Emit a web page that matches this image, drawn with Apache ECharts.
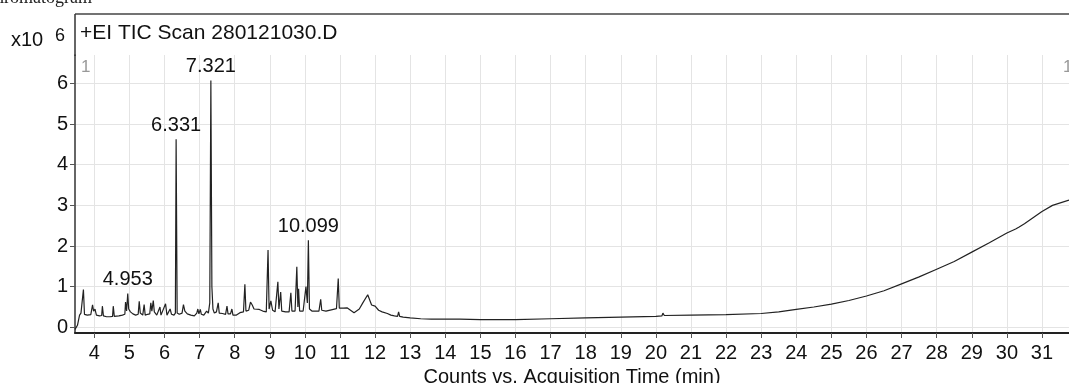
<!DOCTYPE html>
<html>
<head>
<meta charset="utf-8">
<script src="https://cdn.jsdelivr.net/npm/echarts@6/dist/echarts.min.js"></script>
<style>
html,body{margin:0;padding:0;background:#fff;}
#chart{width:1069px;height:383px;}
</style>
</head>
<body>
<div id="chart"></div>
<script>
// Acquisition time (min)
const times = [3.45,3.52,3.58,3.62,3.66,3.69,3.72,3.8,3.9,3.95,3.98,4.02,4.06,4.15,4.21,4.23,4.26,4.35,4.45,4.52,4.54,4.57,4.7,4.8,4.87,4.89,4.92,4.953,4.98,5.03,5.1,5.18,5.25,5.28,5.31,5.38,5.42,5.45,5.52,5.58,5.61,5.64,5.68,5.71,5.78,5.87,5.9,5.95,6.03,6.07,6.12,6.16,6.2,6.27,6.31,6.331,6.36,6.42,6.5,6.54,6.58,6.65,6.75,6.85,6.92,6.95,6.98,7.02,7.05,7.12,7.2,7.25,7.29,7.321,7.35,7.38,7.42,7.48,7.53,7.56,7.65,7.74,7.78,7.81,7.88,7.92,7.95,8.05,8.15,8.25,8.29,8.32,8.4,8.45,8.5,8.55,8.6,8.7,8.8,8.9,8.95,8.98,9.03,9.08,9.15,9.2,9.23,9.26,9.31,9.34,9.45,9.55,9.6,9.63,9.72,9.77,9.8,9.82,9.85,9.95,10.03,10.07,10.099,10.13,10.2,10.3,10.4,10.45,10.48,10.6,10.75,10.9,10.95,10.98,11.1,11.2,11.25,11.3,11.4,11.45,11.55,11.65,11.79,11.9,12.0,12.1,12.2,12.25,12.35,12.45,12.55,12.64,12.67,12.7,12.8,13.0,13.3,13.6,14.0,14.35,14.38,14.41,15.0,16.0,17.0,18.0,19.0,20.0,20.17,20.2,20.24,21.0,22.0,23.0,23.5,24.0,24.5,25.0,25.5,26.0,26.5,27.0,27.5,28.0,28.5,29.0,29.5,30.0,30.25,30.3,30.35,30.5,31.0,31.3,31.77];
// Counts (x10^6)
const counts = [-0.05,0.05,0.3,0.35,0.33,0.93,0.32,0.3,0.31,0.55,0.4,0.45,0.3,0.28,0.29,0.52,0.28,0.26,0.26,0.27,0.52,0.27,0.28,0.3,0.32,0.62,0.4,0.83,0.45,0.38,0.33,0.3,0.32,0.64,0.35,0.3,0.56,0.3,0.32,0.33,0.6,0.4,0.66,0.38,0.3,0.5,0.3,0.28,0.58,0.3,0.33,0.45,0.32,0.3,0.35,4.63,0.35,0.32,0.35,0.56,0.4,0.33,0.3,0.28,0.35,0.45,0.33,0.44,0.32,0.3,0.4,0.35,0.6,6.07,1.0,0.45,0.35,0.38,0.6,0.35,0.34,0.32,0.52,0.33,0.33,0.45,0.3,0.3,0.36,0.38,1.06,0.4,0.42,0.62,0.55,0.45,0.42,0.44,0.4,0.38,1.9,0.45,0.65,0.42,0.38,0.38,1.12,0.45,0.87,0.4,0.38,0.38,0.85,0.4,0.4,1.49,0.5,0.95,0.4,0.4,1.0,0.6,2.14,0.45,0.4,0.4,0.4,0.69,0.42,0.4,0.43,0.46,1.2,0.47,0.47,0.48,0.5,0.42,0.36,0.34,0.45,0.6,0.8,0.55,0.52,0.42,0.38,0.4,0.34,0.3,0.28,0.27,0.38,0.27,0.25,0.23,0.21,0.2,0.2,0.2,0.22,0.2,0.19,0.19,0.21,0.23,0.25,0.27,0.28,0.35,0.29,0.3,0.31,0.34,0.38,0.44,0.5,0.57,0.66,0.77,0.9,1.07,1.24,1.43,1.62,1.85,2.08,2.32,2.42,2.38,2.47,2.55,2.85,3.0,3.13];
// Labelled peaks
const peakTimes = [4.953, 6.331, 7.321, 10.099];
const peakCounts = [0.83, 4.63, 6.07, 2.14];
const xTicks = [4,5,6,7,8,9,10,11,12,13,14,15,16,17,18,19,20,21,22,23,24,25,26,27,28,29,30,31];
const yTicks = [0,1,2,3,4,5,6];

const lineData = times.map((t, i) => [t, counts[i]]);
const peakData = peakTimes.map((t, i) => ({coord: [t, peakCounts[i]], value: t.toFixed(3)}));

const chart = echarts.init(document.getElementById('chart'), null, {renderer: 'canvas'});
const FONT = 'Liberation Sans, Arial, sans-serif';
chart.setOption({
  animation: false,
  backgroundColor: '#fff',
  grid: {left: 75, right: 0, top: 55, bottom: 50, containLabel: false, outerBoundsMode: 'none'},
  xAxis: {
    type: 'value', min: 3.45, max: 31.77,
    name: 'Counts vs. Acquisition Time (min)', nameLocation: 'middle', nameGap: 34, nameMoveOverlap: false,
    nameTextStyle: {fontFamily: FONT, fontSize: 20, color: '#111'},
    axisLine: {show: true, onZero: false, lineStyle: {color: '#222', width: 2}},
    axisTick: {show: true, customValues: xTicks, length: 5, lineStyle: {color: '#555'}},
    axisLabel: {customValues: xTicks, fontFamily: FONT, fontSize: 20, color: '#111', margin: 10},
    splitLine: {show: true, lineStyle: {color: '#e4e4e4', width: 1}}
  },
  yAxis: {
    type: 'value', min: -0.14, max: 6.7,
    axisLine: {show: true, lineStyle: {color: '#333', width: 1.5}},
    axisTick: {show: true, customValues: yTicks, length: 5, lineStyle: {color: '#555'}},
    axisLabel: {customValues: yTicks, fontFamily: FONT, fontSize: 20, color: '#111', margin: 7},
    splitLine: {show: true, lineStyle: {color: '#e4e4e4', width: 1}}
  },
  series: [{
    type: 'line', data: lineData, showSymbol: false, symbol: 'none',
    lineStyle: {color: '#222', width: 1.2},
    markPoint: {
      symbol: 'circle', symbolSize: 0,
      label: {show: true, position: 'top', distance: 4, formatter: p => p.value,
        fontFamily: FONT, fontSize: 20, color: '#111'},
      data: peakData
    }
  }],
  graphic: [
    {type: 'line', shape: {x1: 75, y1: 14, x2: 1069, y2: 14}, style: {stroke: '#444', lineWidth: 1.5}},
    {type: 'line', shape: {x1: 75, y1: 14, x2: 75, y2: 56}, style: {stroke: '#333', lineWidth: 1.5}},
    {type: 'text', left: 80, top: 23, style: {text: '+EI TIC Scan 280121030.D', font: '21px ' + FONT, fill: '#111'}},
    {type: 'text', left: 11, top: 30, style: {text: 'x10', font: '20px ' + FONT, fill: '#111'}},
    {type: 'text', left: 55, top: 27, style: {text: '6', font: '18px ' + FONT, fill: '#111'}},
    {type: 'text', left: 81, top: 59, style: {text: '1', font: '17px ' + FONT, fill: '#999'}},
    {type: 'text', left: 1063, top: 59, style: {text: '1', font: '17px ' + FONT, fill: '#999'}},
    {type: 'text', right: 977, top: -11, style: {text: 'Chromatogram', font: '18px Liberation Serif, serif', fill: '#222'}}
  ]
});
</script>
</body>
</html>
